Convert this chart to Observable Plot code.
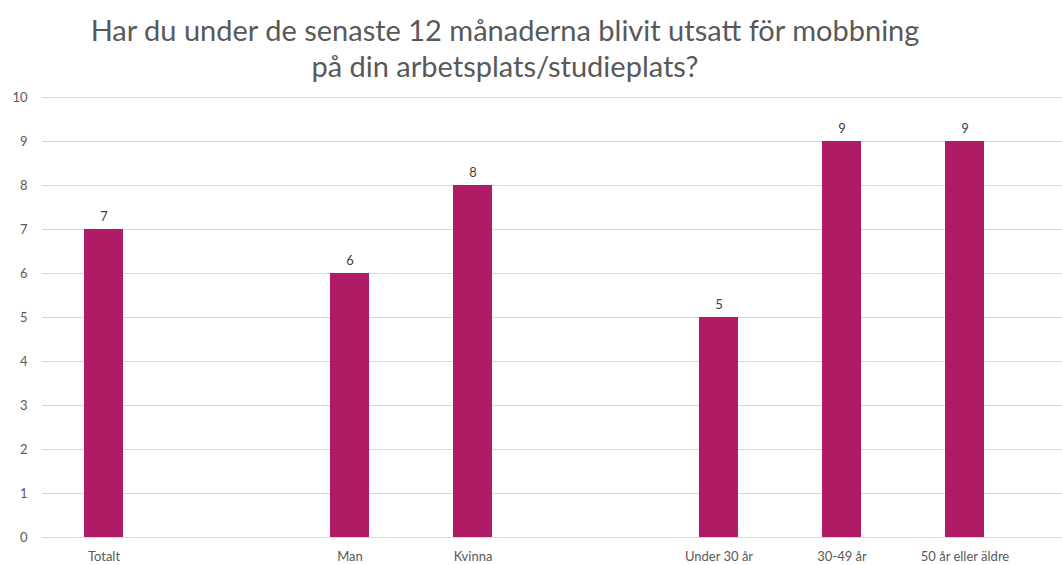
<!DOCTYPE html>
<html><head><meta charset="utf-8">
<script src="https://cdn.jsdelivr.net/npm/d3@7"></script>
<script src="https://cdn.jsdelivr.net/npm/@observablehq/plot@0.6"></script>
<style>
body{margin:0;background:#fff;width:1062px;height:565px;overflow:hidden;font-family:Lato,"Open Sans",sans-serif;}
#title{width:1010px;height:90px;text-align:center;color:#595959;font-size:29px;line-height:36px;padding-top:12px;box-sizing:border-box;}
</style></head>
<body>
<div id="title">Har du under de senaste 12 månaderna blivit utsatt för mobbning<br>på din arbetsplats/studieplats?</div>
<div id="chart"></div>
<script>
const categories = ["Totalt","Man","Kvinna","Under 30 år","30-49 år","50 år eller äldre"];
const values = [7,6,8,5,9,9];
const slots = ["Totalt","gap1","Man","Kvinna","gap2","Under 30 år","30-49 år","50 år eller äldre"];
const yTicks = [0,1,2,3,4,5,6,7,8,9,10];
const data = categories.map((c,i)=>({cat:c, v:values[i]}));
const chart = Plot.plot({
  width:1062, height:475,
  marginTop:7, marginBottom:28, marginLeft:42, marginRight:0,
  style:{fontFamily:"Lato, 'Open Sans', sans-serif", fontSize:"13px", color:"#595959", background:"#fff"},
  x:{domain:slots, range:[42,1026], paddingInner:0.685, paddingOuter:0.3425, label:null, tickSize:0, tickPadding:14,
     tickFormat:d=>categories.includes(d)?d:""},
  y:{domain:[0,10], ticks:yTicks, label:null, tickSize:0, tickPadding:15},
  marks:[
    Plot.ruleY(yTicks,{stroke:"#d9d9d9",strokeWidth:1}),
    Plot.barY(data,{x:"cat",y:"v",fill:"#B01B65"}),
    Plot.text(data,{x:"cat",y:"v",text:d=>String(d.v),dy:-13,fill:"#404040",fontSize:13})
  ]
});
document.getElementById("chart").appendChild(chart);
</script>
</body></html>
